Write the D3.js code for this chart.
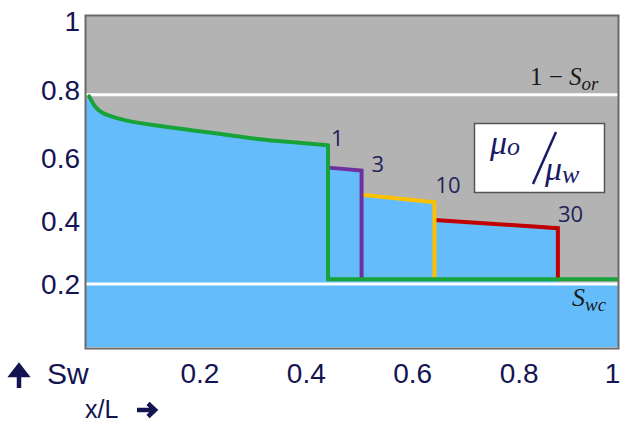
<!DOCTYPE html>
<html><head><meta charset="utf-8">
<script src="https://cdn.jsdelivr.net/npm/d3@7"></script>
<style>
html,body{margin:0;padding:0;background:#fff;}
svg{display:block;}
</style></head>
<body>
<svg id="chart" width="620" height="423"></svg>
<script>
// ---- data ----
const xTicks = [0.2, 0.4, 0.6, 0.8, 1];
const yTicks = [0.2, 0.4, 0.6, 0.8, 1];
const Swc = 0.2, Sor1 = 0.8, shockBase = 0.215;
// mu ratio 1 : rarefaction curve (x/L, Sw)
const curveX = [0.006, 0.017, 0.030, 0.045, 0.077, 0.14, 0.201, 0.27, 0.327, 0.40, 0.455];
const curveY = [0.795, 0.763, 0.744, 0.733, 0.718, 0.701, 0.687, 0.672, 0.659, 0.648, 0.640];
// higher viscosity ratios: segment start/end (x/L, Sw)
const ratioLabels = ["1", "3", "10", "30"];
const segX0 = [null, 0.455, 0.518, 0.655];
const segX1 = [0.455, 0.518, 0.655, 0.887];
const segY0 = [null, 0.569, 0.483, 0.403];
const segY1 = [0.640, 0.560, 0.459, 0.377];
const leftEdgeSw = 0.78;

const colors = ["#18a339", "#7030a0", "#ffc000", "#c00000"];
const navy = "#141452";

const svg = d3.select("#chart");
const L = 86, R = 618, T = 16, B = 347;
const x = d3.scaleLinear().domain([0, 1]).range([L, R]);
const y = d3.scaleLinear().domain([0, 1.05]).range([B, T]);

// background
svg.append("rect").attr("x", L).attr("y", T).attr("width", R - L).attr("height", B - T).attr("fill", "#b3b3b3");

// blue region: Swc band + envelope
svg.append("rect").attr("x", L).attr("y", y(Swc)).attr("width", R - L).attr("height", B - y(Swc)).attr("fill", "#64bdfa");
const curvePts = curveX.map((v, i) => [v, curveY[i]]);
const envArea = d3.area().x(d => x(d[0])).y0(y(0)).y1(d => y(d[1])).curve(d3.curveMonotoneX);
svg.append("path").datum([[0, leftEdgeSw]].concat(curvePts)).attr("d", envArea).attr("fill", "#64bdfa");
const stepPts = [];
for (let i = 1; i < segX0.length; i++) {
  stepPts.push([segX0[i], segY0[i]]);
  stepPts.push([segX1[i], segY1[i]]);
}
svg.append("path").datum(stepPts).attr("d", d3.area().x(d => x(d[0])).y0(y(0)).y1(d => y(d[1])))
  .attr("fill", "#64bdfa");

// white reference lines
[Swc, Sor1].forEach(v => {
  svg.append("line").attr("x1", L).attr("x2", R).attr("y1", y(v)).attr("y2", y(v))
    .attr("stroke", "#fff").attr("stroke-width", 3);
});

const line = d3.line().x(d => x(d[0])).y(d => y(d[1]));
// segments for ratios 3,10,30
for (let i = segX0.length - 1; i >= 1; i--) {
  const pts = [[segX0[i], segY0[i]], [segX1[i], segY1[i]], [segX1[i], shockBase]];
  svg.append("path").datum(pts).attr("d", line).attr("fill", "none")
    .attr("stroke", colors[i]).attr("stroke-width", 4).attr("stroke-linejoin", "miter");
}
// ratio 1 curve + shock + base
svg.append("path").datum(curvePts).attr("d", line.curve(d3.curveMonotoneX)).attr("fill", "none")
  .attr("stroke", colors[0]).attr("stroke-width", 4).attr("stroke-linecap", "round");
line.curve(d3.curveLinear);
svg.append("path").datum([[segX1[0], segY1[0]], [segX1[0], shockBase], [1, shockBase]]).attr("d", line)
  .attr("fill", "none").attr("stroke", colors[0]).attr("stroke-width", 4).attr("stroke-linejoin", "miter");

// ratio labels
const lblDx = [3, 10, 1, 0];
const lblDy = [1, 2, -9, -6];
ratioLabels.forEach((t, i) => {
  svg.append("text").attr("x", x(segX1[i]) + lblDx[i]).attr("y", y(segY1[i]) + lblDy[i])
    .attr("font-family", "Open Sans, sans-serif").attr("font-size", 22).attr("fill", "#222258").text(t);
});

// frame
svg.append("rect").attr("x", L - 0.5).attr("y", T - 0.5).attr("width", R - L + 1).attr("height", B - T + 2)
  .attr("fill", "none").attr("stroke", "#6a6a6a").attr("stroke-width", 2);

// axes
const ya = d3.axisLeft(y).tickValues(yTicks).tickSize(0).tickPadding(6).tickFormat(d3.format(""));
const yg = svg.append("g").attr("transform", `translate(${L},0)`).call(ya);
yg.select(".domain").remove();
yg.selectAll("text").attr("font-family", "Liberation Sans, Arial, sans-serif").attr("font-size", 28).attr("fill", navy)
  .attr("dy", d => d === 1 ? "-0.05em" : (d === 0.8 ? "0.17em" : "0.34em"));

const xa = d3.axisBottom(x).tickValues(xTicks).tickSize(0).tickPadding(16).tickFormat(d3.format(""));
const xg = svg.append("g").attr("transform", `translate(0,${B})`).call(xa);
xg.select(".domain").remove();
xg.selectAll("text").attr("font-family", "Liberation Sans, Arial, sans-serif").attr("font-size", 28).attr("fill", navy)
  .attr("dx", d => d === 1 ? -6 : 7);

// axis captions
svg.append("path").attr("d", "M19,388 L19,374 M12,375 L19,366 L26,375 Z").attr("stroke", navy).attr("stroke-width", 4.5)
  .attr("fill", navy).attr("stroke-linejoin", "miter");
svg.append("text").attr("x", 47).attr("y", 384).attr("font-family", "Liberation Sans, Arial, sans-serif")
  .attr("font-size", 30).attr("fill", navy).text("Sw");
svg.append("text").attr("x", 85).attr("y", 418).attr("font-family", "Liberation Sans, Arial, sans-serif")
  .attr("font-size", 25).attr("fill", navy).text("x/L");
svg.append("path").attr("d", "M137,410 L153,410 M148,403.5 L155,410 L148,416.5").attr("stroke", navy).attr("stroke-width", 4.5)
  .attr("fill", "none");

// math labels
const serif = "Liberation Serif, DejaVu Serif, serif";
svg.append("text").attr("x", 530).attr("y", 85).attr("font-family", serif).attr("font-size", 25).attr("fill", "#1a1a1a")
  .html('1 − <tspan font-style="italic">S</tspan><tspan font-style="italic" font-size="19" dy="5">or</tspan>');
svg.append("text").attr("x", 572).attr("y", 306).attr("font-family", serif).attr("font-size", 26).attr("fill", "#1a1a1a")
  .html('<tspan font-style="italic">S</tspan><tspan font-style="italic" font-size="19" dy="5">wc</tspan>');

// mu ratio box
svg.append("rect").attr("x", 474.5).attr("y", 123.5).attr("width", 130).attr("height", 69)
  .attr("fill", "#fff").attr("stroke", "#555").attr("stroke-width", 1.5);
svg.append("text").attr("x", 490).attr("y", 154).attr("font-family", serif).attr("font-size", 34).attr("fill", "#1a1a66")
  .html('<tspan font-style="italic">μ</tspan><tspan font-style="italic" font-size="26" dy="1">o</tspan>');
svg.append("line").attr("x1", 533).attr("y1", 184).attr("x2", 556).attr("y2", 132)
  .attr("stroke", "#1a1a66").attr("stroke-width", 2.5);
svg.append("text").attr("x", 545).attr("y", 180).attr("font-family", serif).attr("font-size", 34).attr("fill", "#1a1a66")
  .html('<tspan font-style="italic">μ</tspan><tspan font-style="italic" font-size="26" dy="3">w</tspan>');
</script>
</body></html>
